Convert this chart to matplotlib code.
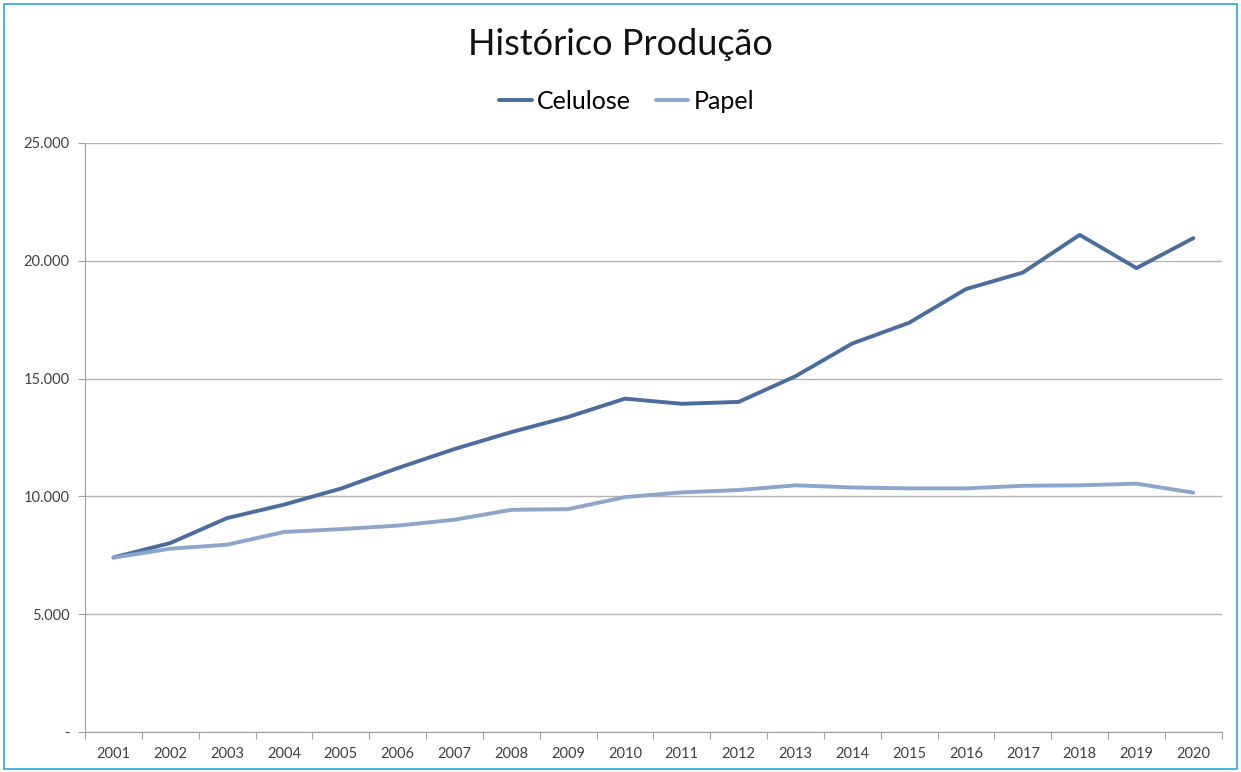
import numpy as np
import matplotlib
matplotlib.use('Agg')
import matplotlib.pyplot as plt
from matplotlib import patches
from matplotlib.ticker import FuncFormatter

years = ['2001','2002','2003','2004','2005','2006','2007','2008','2009','2010',
         '2011','2012','2013','2014','2015','2016','2017','2018','2019','2020']
celulose = [7410, 8020, 9080, 9650, 10330, 11200, 12010, 12730, 13370, 14150,
            13930, 14010, 15100, 16490, 17370, 18800, 19500, 21100, 19690, 20960]
papel = [7400, 7780, 7950, 8490, 8610, 8760, 9010, 9430, 9460, 9970,
         10170, 10270, 10470, 10380, 10340, 10340, 10450, 10470, 10540, 10160]
yticks = [0, 5000, 10000, 15000, 20000, 25000]

plt.rcParams['font.family'] = ['Lato', 'DejaVu Sans']

fig = plt.figure(figsize=(12.41, 7.72), dpi=100)
# frame round the picture
fig.patches.append(patches.Rectangle((0.003, 0.004), 0.994, 0.991, transform=fig.transFigure,
                                     fill=False, edgecolor='#29a8e0', linewidth=1.2))

ax = fig.add_axes([0.0685, 0.0518, 0.916, 0.763])
x = np.arange(len(years))
ax.plot(x, celulose, color='#4a6d9e', linewidth=2.8, label='Celulose', solid_capstyle='round')
ax.plot(x, papel, color='#8ea5cb', linewidth=2.8, label='Papel', solid_capstyle='round')

ax.set_xlim(-0.5, len(years) - 0.5)
ax.set_ylim(0, 25000)
ax.set_yticks(yticks)
ax.yaxis.set_major_formatter(FuncFormatter(lambda v, p: '-' if v == 0 else f'{int(v):,}'.replace(',', '.')))
ax.grid(axis='y', color='#b4b4b4', linewidth=1)
ax.set_axisbelow(True)

# category boundaries as ticks, labels in the middle
ax.set_xticks(np.arange(-0.5, len(years), 1))
ax.set_xticklabels([])
ax.set_xticks(x, minor=True)
ax.set_xticklabels(years, minor=True)
ax.tick_params(axis='x', which='major', length=5, color='#a0a0a0', direction='out')
ax.tick_params(axis='x', which='minor', length=0, pad=11, labelsize=10.5, labelcolor='#404040')
ax.tick_params(axis='y', length=5, color='#a0a0a0', pad=6, labelsize=10.5, labelcolor='#404040')

for s in ['top', 'right']:
    ax.spines[s].set_visible(False)
for s in ['left', 'bottom']:
    ax.spines[s].set_color('#a0a0a0')

fig.text(0.5, 0.943, 'Histórico Produção', ha='center', va='center', fontsize=26, color='#111111')
fig.legend(loc='center', bbox_to_anchor=(0.505, 0.869), ncol=2, frameon=False, fontsize=18,
           handlelength=1.3, handletextpad=0.2, columnspacing=1.0)

fig.savefig('out.png', dpi=100)
